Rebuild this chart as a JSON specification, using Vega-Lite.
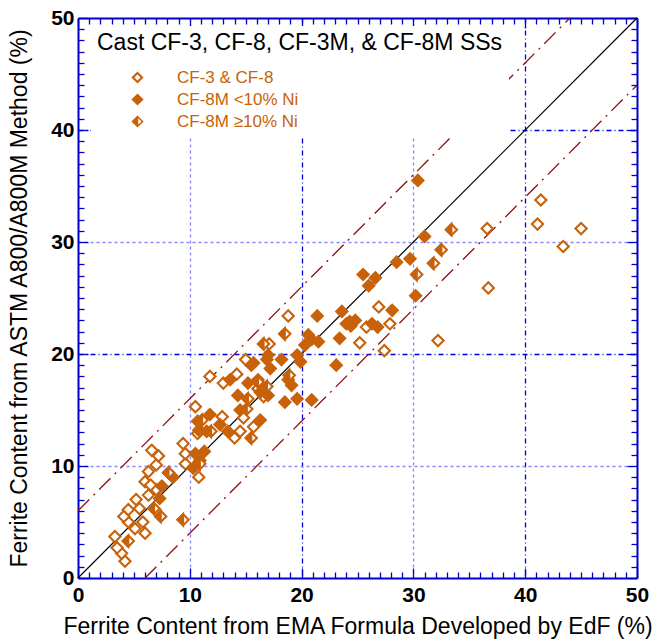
{
  "$schema": "https://vega.github.io/schema/vega-lite/v6.json",
  "width": 559,
  "height": 560,
  "autosize": "none",
  "padding": {"left": 78, "top": 18, "right": 27, "bottom": 62},
  "background": "white",
  "config": {"font": "Liberation Sans", "view": {"stroke": null}},
  "datasets": {
    "points": [
      {"edf": 4.2, "astm": 1.5, "grade": "CF-3 & CF-8"},
      {"edf": 3.9, "astm": 2.2, "grade": "CF-3 & CF-8"},
      {"edf": 3.5, "astm": 2.7, "grade": "CF-3 & CF-8"},
      {"edf": 3.3, "astm": 3.7, "grade": "CF-3 & CF-8"},
      {"edf": 5.1, "astm": 4.4, "grade": "CF-3 & CF-8"},
      {"edf": 6.0, "astm": 4.0, "grade": "CF-3 & CF-8"},
      {"edf": 5.8, "astm": 5.0, "grade": "CF-3 & CF-8"},
      {"edf": 4.5, "astm": 5.0, "grade": "CF-3 & CF-8"},
      {"edf": 4.1, "astm": 5.5, "grade": "CF-3 & CF-8"},
      {"edf": 4.5, "astm": 6.1, "grade": "CF-3 & CF-8"},
      {"edf": 5.5, "astm": 6.2, "grade": "CF-3 & CF-8"},
      {"edf": 5.2, "astm": 7.0, "grade": "CF-3 & CF-8"},
      {"edf": 6.3, "astm": 7.4, "grade": "CF-3 & CF-8"},
      {"edf": 7.0, "astm": 7.9, "grade": "CF-3 & CF-8"},
      {"edf": 6.0, "astm": 8.6, "grade": "CF-3 & CF-8"},
      {"edf": 6.5, "astm": 8.3, "grade": "CF-3 & CF-8"},
      {"edf": 6.3, "astm": 9.5, "grade": "CF-3 & CF-8"},
      {"edf": 7.0, "astm": 10.1, "grade": "CF-3 & CF-8"},
      {"edf": 7.2, "astm": 10.9, "grade": "CF-3 & CF-8"},
      {"edf": 6.6, "astm": 11.4, "grade": "CF-3 & CF-8"},
      {"edf": 9.6, "astm": 10.2, "grade": "CF-3 & CF-8"},
      {"edf": 10.8, "astm": 9.0, "grade": "CF-3 & CF-8"},
      {"edf": 9.6, "astm": 11.1, "grade": "CF-3 & CF-8"},
      {"edf": 9.4, "astm": 12.0, "grade": "CF-3 & CF-8"},
      {"edf": 10.7, "astm": 12.9, "grade": "CF-3 & CF-8"},
      {"edf": 10.5, "astm": 15.3, "grade": "CF-3 & CF-8"},
      {"edf": 11.8, "astm": 18.0, "grade": "CF-3 & CF-8"},
      {"edf": 12.9, "astm": 14.4, "grade": "CF-3 & CF-8"},
      {"edf": 13.0, "astm": 17.4, "grade": "CF-3 & CF-8"},
      {"edf": 14.2, "astm": 18.2, "grade": "CF-3 & CF-8"},
      {"edf": 15.0, "astm": 19.5, "grade": "CF-3 & CF-8"},
      {"edf": 14.8, "astm": 14.3, "grade": "CF-3 & CF-8"},
      {"edf": 14.5, "astm": 13.1, "grade": "CF-3 & CF-8"},
      {"edf": 14.0, "astm": 12.5, "grade": "CF-3 & CF-8"},
      {"edf": 15.7, "astm": 13.5, "grade": "CF-3 & CF-8"},
      {"edf": 16.6, "astm": 16.2, "grade": "CF-3 & CF-8"},
      {"edf": 16.1, "astm": 16.9, "grade": "CF-3 & CF-8"},
      {"edf": 17.1, "astm": 20.9, "grade": "CF-3 & CF-8"},
      {"edf": 18.8, "astm": 23.4, "grade": "CF-3 & CF-8"},
      {"edf": 25.8, "astm": 22.4, "grade": "CF-3 & CF-8"},
      {"edf": 27.9, "astm": 22.7, "grade": "CF-3 & CF-8"},
      {"edf": 26.9, "astm": 24.2, "grade": "CF-3 & CF-8"},
      {"edf": 25.2, "astm": 21.0, "grade": "CF-3 & CF-8"},
      {"edf": 27.4, "astm": 20.3, "grade": "CF-3 & CF-8"},
      {"edf": 32.2, "astm": 21.2, "grade": "CF-3 & CF-8"},
      {"edf": 36.7, "astm": 25.9, "grade": "CF-3 & CF-8"},
      {"edf": 36.6, "astm": 31.2, "grade": "CF-3 & CF-8"},
      {"edf": 41.4, "astm": 33.75, "grade": "CF-3 & CF-8"},
      {"edf": 41.1, "astm": 31.6, "grade": "CF-3 & CF-8"},
      {"edf": 45.0, "astm": 31.2, "grade": "CF-3 & CF-8"},
      {"edf": 43.4, "astm": 29.6, "grade": "CF-3 & CF-8"},
      {"edf": 7.3, "astm": 7.1, "grade": "CF-8M <10% Ni"},
      {"edf": 7.5, "astm": 8.2, "grade": "CF-8M <10% Ni"},
      {"edf": 8.5, "astm": 9.0, "grade": "CF-8M <10% Ni"},
      {"edf": 10.3, "astm": 9.8, "grade": "CF-8M <10% Ni"},
      {"edf": 10.9, "astm": 10.5, "grade": "CF-8M <10% Ni"},
      {"edf": 10.5, "astm": 11.1, "grade": "CF-8M <10% Ni"},
      {"edf": 11.3, "astm": 11.3, "grade": "CF-8M <10% Ni"},
      {"edf": 10.8, "astm": 13.2, "grade": "CF-8M <10% Ni"},
      {"edf": 11.5, "astm": 13.1, "grade": "CF-8M <10% Ni"},
      {"edf": 10.7, "astm": 14.0, "grade": "CF-8M <10% Ni"},
      {"edf": 11.8, "astm": 14.6, "grade": "CF-8M <10% Ni"},
      {"edf": 12.7, "astm": 13.7, "grade": "CF-8M <10% Ni"},
      {"edf": 13.4, "astm": 13.1, "grade": "CF-8M <10% Ni"},
      {"edf": 13.6, "astm": 17.7, "grade": "CF-8M <10% Ni"},
      {"edf": 14.3, "astm": 16.3, "grade": "CF-8M <10% Ni"},
      {"edf": 14.5, "astm": 15.0, "grade": "CF-8M <10% Ni"},
      {"edf": 15.2, "astm": 17.4, "grade": "CF-8M <10% Ni"},
      {"edf": 16.1, "astm": 17.7, "grade": "CF-8M <10% Ni"},
      {"edf": 16.3, "astm": 16.6, "grade": "CF-8M <10% Ni"},
      {"edf": 16.3, "astm": 14.1, "grade": "CF-8M <10% Ni"},
      {"edf": 17.0, "astm": 16.3, "grade": "CF-8M <10% Ni"},
      {"edf": 15.7, "astm": 19.2, "grade": "CF-8M <10% Ni"},
      {"edf": 15.5, "astm": 19.0, "grade": "CF-8M <10% Ni"},
      {"edf": 16.9, "astm": 19.5, "grade": "CF-8M <10% Ni"},
      {"edf": 17.0, "astm": 19.9, "grade": "CF-8M <10% Ni"},
      {"edf": 18.2, "astm": 19.5, "grade": "CF-8M <10% Ni"},
      {"edf": 17.2, "astm": 18.7, "grade": "CF-8M <10% Ni"},
      {"edf": 18.5, "astm": 15.7, "grade": "CF-8M <10% Ni"},
      {"edf": 19.6, "astm": 16.0, "grade": "CF-8M <10% Ni"},
      {"edf": 20.9, "astm": 15.9, "grade": "CF-8M <10% Ni"},
      {"edf": 19.1, "astm": 17.2, "grade": "CF-8M <10% Ni"},
      {"edf": 18.8, "astm": 17.7, "grade": "CF-8M <10% Ni"},
      {"edf": 19.9, "astm": 19.3, "grade": "CF-8M <10% Ni"},
      {"edf": 19.6, "astm": 19.9, "grade": "CF-8M <10% Ni"},
      {"edf": 20.6, "astm": 21.7, "grade": "CF-8M <10% Ni"},
      {"edf": 21.5, "astm": 21.1, "grade": "CF-8M <10% Ni"},
      {"edf": 20.3, "astm": 20.8, "grade": "CF-8M <10% Ni"},
      {"edf": 20.9, "astm": 21.3, "grade": "CF-8M <10% Ni"},
      {"edf": 21.4, "astm": 23.4, "grade": "CF-8M <10% Ni"},
      {"edf": 23.1, "astm": 19.0, "grade": "CF-8M <10% Ni"},
      {"edf": 23.4, "astm": 21.4, "grade": "CF-8M <10% Ni"},
      {"edf": 23.6, "astm": 23.8, "grade": "CF-8M <10% Ni"},
      {"edf": 24.3, "astm": 22.9, "grade": "CF-8M <10% Ni"},
      {"edf": 24.0, "astm": 22.7, "grade": "CF-8M <10% Ni"},
      {"edf": 24.8, "astm": 23.0, "grade": "CF-8M <10% Ni"},
      {"edf": 24.4, "astm": 22.5, "grade": "CF-8M <10% Ni"},
      {"edf": 26.3, "astm": 22.7, "grade": "CF-8M <10% Ni"},
      {"edf": 26.8, "astm": 22.4, "grade": "CF-8M <10% Ni"},
      {"edf": 28.1, "astm": 23.9, "grade": "CF-8M <10% Ni"},
      {"edf": 30.2, "astm": 25.2, "grade": "CF-8M <10% Ni"},
      {"edf": 25.5, "astm": 27.1, "grade": "CF-8M <10% Ni"},
      {"edf": 26.6, "astm": 26.8, "grade": "CF-8M <10% Ni"},
      {"edf": 26.0, "astm": 26.1, "grade": "CF-8M <10% Ni"},
      {"edf": 28.5, "astm": 28.2, "grade": "CF-8M <10% Ni"},
      {"edf": 29.7, "astm": 28.5, "grade": "CF-8M <10% Ni"},
      {"edf": 31.0, "astm": 30.5, "grade": "CF-8M <10% Ni"},
      {"edf": 30.4, "astm": 35.5, "grade": "CF-8M <10% Ni"},
      {"edf": 4.5, "astm": 3.3, "grade": "CF-8M ≥10% Ni"},
      {"edf": 7.4, "astm": 5.5, "grade": "CF-8M ≥10% Ni"},
      {"edf": 6.8, "astm": 6.2, "grade": "CF-8M ≥10% Ni"},
      {"edf": 9.4, "astm": 5.2, "grade": "CF-8M ≥10% Ni"},
      {"edf": 8.1, "astm": 9.4, "grade": "CF-8M ≥10% Ni"},
      {"edf": 10.9, "astm": 10.2, "grade": "CF-8M ≥10% Ni"},
      {"edf": 11.1, "astm": 14.1, "grade": "CF-8M ≥10% Ni"},
      {"edf": 11.9, "astm": 13.1, "grade": "CF-8M ≥10% Ni"},
      {"edf": 15.1, "astm": 15.1, "grade": "CF-8M ≥10% Ni"},
      {"edf": 15.2, "astm": 16.0, "grade": "CF-8M ≥10% Ni"},
      {"edf": 16.1, "astm": 17.5, "grade": "CF-8M ≥10% Ni"},
      {"edf": 15.5, "astm": 12.5, "grade": "CF-8M ≥10% Ni"},
      {"edf": 16.9, "astm": 17.1, "grade": "CF-8M ≥10% Ni"},
      {"edf": 16.6, "astm": 20.9, "grade": "CF-8M ≥10% Ni"},
      {"edf": 18.5, "astm": 21.8, "grade": "CF-8M ≥10% Ni"},
      {"edf": 18.9, "astm": 18.1, "grade": "CF-8M ≥10% Ni"},
      {"edf": 33.4, "astm": 31.1, "grade": "CF-8M ≥10% Ni"},
      {"edf": 32.5, "astm": 29.3, "grade": "CF-8M ≥10% Ni"},
      {"edf": 31.8, "astm": 28.1, "grade": "CF-8M ≥10% Ni"},
      {"edf": 30.3, "astm": 27.1, "grade": "CF-8M ≥10% Ni"}
    ]
  },
  "resolve": {"axis": {"x": "independent", "y": "independent"}},
  "layer": [
    {
      "data": {"values": [{"edf": 0, "astm": 0}, {"edf": 50, "astm": 50}]},
      "mark": {"type": "line", "color": "black", "strokeWidth": 1.2},
      "encoding": {
        "x": {"field": "edf", "type": "quantitative", "scale": {"domain": [0, 50], "nice": false, "zero": false},
          "axis": {"orient": "top", "title": null, "labels": false, "grid": false,
            "values": [0,1,2,3,4,5,6,7,8,9,10,11,12,13,14,15,16,17,18,19,20,21,22,23,24,25,26,27,28,29,30,31,32,33,34,35,36,37,38,39,40,41,42,43,44,45,46,47,48,49,50],
            "tickSize": {"condition": {"test": "datum.value % 10 === 0", "value": -10}, "value": -6},
            "tickColor": "#0000cc", "tickWidth": 1.3, "domainColor": "#0000cc", "domainWidth": 2}},
        "y": {"field": "astm", "type": "quantitative", "scale": {"domain": [0, 50], "nice": false, "zero": false},
          "axis": {"orient": "right", "title": null, "labels": false, "grid": false,
            "values": [0,1,2,3,4,5,6,7,8,9,10,11,12,13,14,15,16,17,18,19,20,21,22,23,24,25,26,27,28,29,30,31,32,33,34,35,36,37,38,39,40,41,42,43,44,45,46,47,48,49,50],
            "tickSize": {"condition": {"test": "datum.value % 10 === 0", "value": -10}, "value": -6},
            "tickColor": "#0000cc", "tickWidth": 1.3, "domainColor": "#0000cc", "domainWidth": 2}}
      }
    },
    {
      "data": {"values": [
        {"bound": "upper", "edf": 0, "astm": 6}, {"bound": "upper", "edf": 44, "astm": 50},
        {"bound": "lower", "edf": 6, "astm": 0}, {"bound": "lower", "edf": 50, "astm": 44}
      ]},
      "mark": {"type": "line", "color": "#8b1010", "strokeWidth": 1.3, "strokeDash": [16, 6, 2, 6]},
      "encoding": {
        "x": {"field": "edf", "type": "quantitative", "axis": null},
        "y": {"field": "astm", "type": "quantitative", "axis": null},
        "detail": {"field": "bound"}
      }
    },
    {
      "data": {"name": "points"},
      "mark": {"type": "point", "filled": true, "color": "#c8620a", "size": 130, "opacity": 1},
      "encoding": {
        "x": {"field": "edf", "type": "quantitative", "axis": null},
        "y": {"field": "astm", "type": "quantitative", "axis": null},
        "shape": {"field": "grade", "type": "nominal",
          "scale": {"domain": ["CF-3 & CF-8", "CF-8M <10% Ni", "CF-8M ≥10% Ni"],
            "range": ["M0,-1L1,0L0,1L-1,0ZM0,-0.5L-0.5,0L0,0.5L0.5,0Z", "M0,-1L1,0L0,1L-1,0Z", "M0,-1L1,0L0,1L-1,0ZM0.12,-0.52L0.12,0.52L0.64,0Z"]},
          "legend": {
            "title": "Cast CF-3, CF-8, CF-3M, & CF-8M SSs",
            "orient": "none", "legendX": 13, "legendY": 8,
            "fillColor": "white", "padding": 6,
            "titleFontSize": 23, "titleFontWeight": "normal", "titleColor": "black", "titlePadding": 14, "titleLimit": 600,
            "labelFontSize": 17, "labelColor": "#c8620a", "labelOffset": 31, "labelLimit": 300,
            "symbolOffset": 32, "symbolSize": 150, "symbolFillColor": "#c8620a", "symbolStrokeWidth": 0, "symbolOpacity": 1,
            "rowPadding": 4
          }}
      }
    },
    {
      "data": {"name": "points"},
      "mark": {"type": "point", "shape": "diamond", "filled": true, "size": 126, "stroke": "#c8620a", "strokeWidth": 2.1, "opacity": 1},
      "encoding": {
        "x": {"field": "edf", "type": "quantitative",
          "axis": {"orient": "bottom",
            "values": [0,1,2,3,4,5,6,7,8,9,10,11,12,13,14,15,16,17,18,19,20,21,22,23,24,25,26,27,28,29,30,31,32,33,34,35,36,37,38,39,40,41,42,43,44,45,46,47,48,49,50],
            "title": "Ferrite Content from EMA Formula Developed by EdF (%)",
            "titleFontSize": 23, "titleFontWeight": "normal", "titleColor": "black", "titlePadding": 6,
            "labelExpr": "datum.value % 10 === 0 ? datum.label : ''",
            "labelFontSize": 21, "labelFontWeight": "bold", "labelColor": "black", "labelPadding": 16,
            "labelFlush": false, "labelOverlap": false,
            "tickSize": {"condition": {"test": "datum.value % 10 === 0", "value": -10}, "value": -6},
            "tickColor": "#0000cc", "tickWidth": 1.3, "domainColor": "#0000cc", "domainWidth": 2,
            "grid": true,
            "gridColor": {"condition": {"test": "datum.value === 20 || datum.value === 40", "value": "#0000dd"}, "value": "#8888ff"},
            "gridOpacity": {"condition": {"test": "datum.value % 10 === 0 && datum.value > 0 && datum.value < 50", "value": 1}, "value": 0},
            "gridDash": {"condition": {"test": "datum.value === 20 || datum.value === 40", "value": [5, 3, 1, 3]}, "value": [3, 3]},
            "gridWidth": 1.3}},
        "y": {"field": "astm", "type": "quantitative",
          "axis": {"orient": "left",
            "values": [0,1,2,3,4,5,6,7,8,9,10,11,12,13,14,15,16,17,18,19,20,21,22,23,24,25,26,27,28,29,30,31,32,33,34,35,36,37,38,39,40,41,42,43,44,45,46,47,48,49,50],
            "title": "Ferrite Content from ASTM A800/A800M Method (%)",
            "titleFontSize": 23, "titleFontWeight": "normal", "titleColor": "black", "titlePadding": 19,
            "labelExpr": "datum.value % 10 === 0 ? datum.label : ''",
            "labelFontSize": 21, "labelFontWeight": "bold", "labelColor": "black", "labelPadding": 14,
            "labelFlush": false, "labelOverlap": false,
            "tickSize": {"condition": {"test": "datum.value % 10 === 0", "value": -10}, "value": -6},
            "tickColor": "#0000cc", "tickWidth": 1.3, "domainColor": "#0000cc", "domainWidth": 2,
            "grid": true,
            "gridColor": {"condition": {"test": "datum.value === 20 || datum.value === 40", "value": "#0000dd"}, "value": "#8888ff"},
            "gridOpacity": {"condition": {"test": "datum.value % 10 === 0 && datum.value > 0 && datum.value < 50", "value": 1}, "value": 0},
            "gridDash": {"condition": {"test": "datum.value === 20 || datum.value === 40", "value": [5, 3, 1, 3]}, "value": [3, 3]},
            "gridWidth": 1.3}},
        "fill": {"condition": {"test": "datum.grade === 'CF-8M <10% Ni'", "value": "#c8620a"}, "value": "white"}
      }
    },
    {
      "data": {"name": "points"},
      "transform": [{"filter": "datum.grade === 'CF-8M ≥10% Ni'"}],
      "mark": {"type": "point", "shape": "M0,-1L0,1L-1,0Z", "filled": true, "color": "#c8620a", "size": 126, "stroke": "#c8620a", "strokeWidth": 2.1, "opacity": 1},
      "encoding": {
        "x": {"field": "edf", "type": "quantitative", "axis": null},
        "y": {"field": "astm", "type": "quantitative", "axis": null}
      }
    }
  ]
}
